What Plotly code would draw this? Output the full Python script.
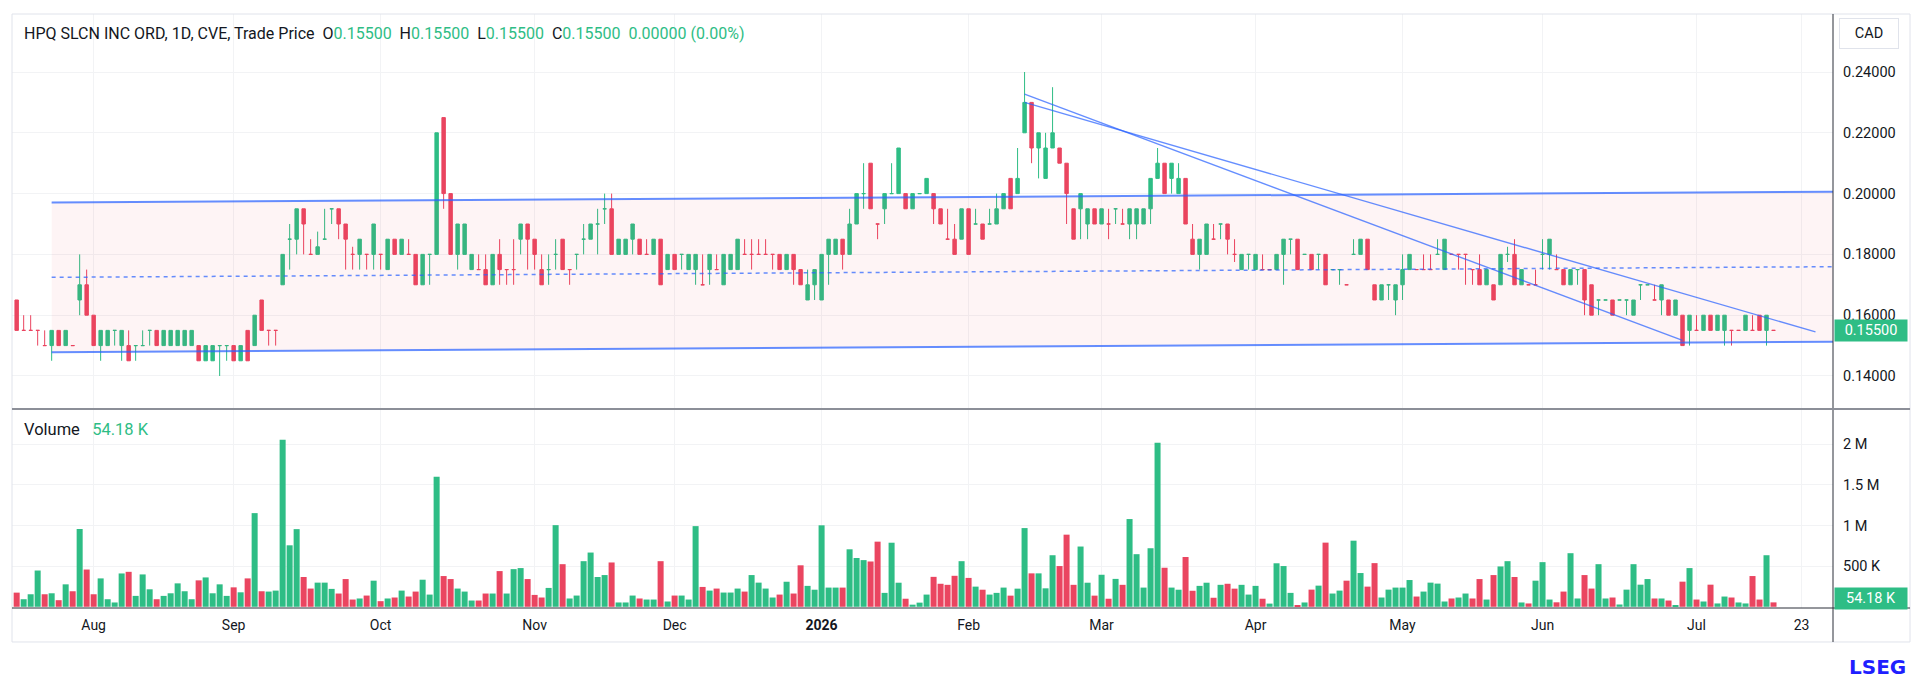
import pandas as pd
import plotly.graph_objects as go

# TSXV trading calendar for the chart window
holidays = ["2025-08-04", "2025-09-01", "2025-10-13", "2025-12-25", "2025-12-26",
            "2026-01-01", "2026-02-16", "2026-04-03", "2026-05-18", "2026-07-01"]
days = [d for d in pd.bdate_range("2025-07-17", "2026-07-17")
        if d.strftime("%Y-%m-%d") not in holidays]

# daily OHLC (CAD)
open_ = [
    .165, .155, .155, .155, .15, .15, .155, .15, .15, .165, .17, .16, .15, .15, .155, .15, .15, .15, .15, .155,
    .155, .15, .15, .15, .15, .15, .15, .145, .145, .15, .15, .15, .145, .155, .15, .165, .155, .155, .17, .185,
    .185, .195, .18, .18, .185, .195, .195, .19, .18, .18, .18, .18, .18, .175, .185, .18, .18, .18, .17, .18,
    .18, .225, .20, .18, .18, .175, .175, .175, .17, .18, .175, .175, .185, .19, .185, .175, .175, .18, .185, .175,
    .18, .185, .185, .19, .195, .195, .18, .18, .185, .185, .18, .18, .185, .175, .18, .18, .175, .175, .17, .175,
    .175, .17, .175, .175, .18, .18, .18, .18, .18, .18, .175, .18, .175, .165, .17, .165, .18, .18, .185, .18,
    .19, .20, .21, .19, .195, .20, .20, .20, .195, .20, .20, .20, .195, .185, .185, .185, .195, .19, .19, .19,
    .19, .195, .205, .20, .22, .23, .215, .205, .215, .215, .21, .195, .195, .19, .195, .19, .19, .195, .19, .19,
    .19, .19, .195, .205, .21, .205, .20, .205, .185, .18, .18, .185, .19, .19, .18, .175, .18, .175, .175, .175,
    .175, .18, .185, .185, .18, .18, .18, .18, .175, .175, .17, .18, .18, .185, .17, .165, .17, .165, .17, .175,
    .175, .175, .175, .18, .175, .18, .18, .18, .175, .175, .17, .17, .17, .18, .18, .17, .17, .17, .18, .18,
    .175, .175, .17, .175, .175, .17, .165, .165, .165, .165, .165, .16, .17, .17, .165, .165, .165, .16, .16, .155,
    .155, .155, .16, .155, .155, .155, .155, .155, .155, .16, .155, .155,
]
high = [
    .165, .16, .16, .155, .155, .155, .155, .155, .15, .18, .175, .16, .155, .155, .155, .155, .155, .15, .155, .155,
    .155, .155, .155, .155, .155, .155, .15, .15, .15, .15, .15, .15, .15, .155, .16, .165, .155, .155, .18, .19,
    .195, .195, .185, .1875, .195, .195, .195, .19, .1825, .185, .18, .19, .18, .185, .185, .185, .185, .18, .18, .18,
    .22, .225, .20, .19, .19, .18, .18, .18, .18, .185, .175, .185, .19, .19, .185, .18, .18, .185, .185, .175,
    .18, .19, .19, .195, .20, .20, .185, .185, .19, .185, .185, .185, .185, .18, .18, .18, .18, .18, .18, .18,
    .18, .18, .18, .185, .185, .185, .185, .185, .18, .18, .18, .18, .175, .175, .175, .18, .185, .185, .185, .195,
    .20, .21, .21, .19, .20, .21, .215, .20, .20, .20, .205, .20, .195, .195, .19, .195, .195, .195, .19, .195,
    .20, .20, .205, .215, .24, .23, .22, .22, .235, .215, .21, .195, .20, .195, .195, .195, .195, .195, .195, .195,
    .195, .195, .205, .215, .21, .21, .21, .205, .19, .185, .19, .19, .19, .19, .185, .18, .18, .18, .18, .175,
    .18, .185, .185, .185, .18, .18, .18, .18, .175, .175, .17, .185, .185, .185, .17, .17, .17, .17, .18, .18,
    .175, .18, .18, .185, .185, .18, .18, .18, .175, .18, .175, .17, .18, .1825, .185, .175, .17, .175, .185, .185,
    .18, .175, .175, .175, .175, .17, .165, .165, .165, .165, .165, .165, .17, .17, .17, .17, .165, .165, .16, .16,
    .16, .16, .16, .16, .16, .155, .155, .16, .16, .16, .16, .155,
]
low = [
    .155, .155, .155, .15, .15, .145, .15, .15, .15, .16, .16, .15, .145, .15, .15, .145, .145, .145, .15, .15,
    .15, .15, .15, .15, .15, .15, .145, .145, .145, .14, .145, .145, .145, .145, .15, .155, .15, .15, .17, .175,
    .18, .18, .18, .18, .185, .19, .185, .175, .175, .175, .175, .175, .175, .175, .18, .18, .18, .17, .17, .17,
    .18, .195, .18, .175, .18, .175, .175, .17, .17, .17, .17, .17, .18, .175, .175, .17, .17, .175, .175, .17,
    .175, .18, .185, .18, .19, .18, .18, .18, .18, .18, .18, .18, .17, .175, .175, .175, .175, .17, .17, .17,
    .175, .17, .175, .175, .18, .175, .18, .18, .175, .175, .175, .17, .17, .165, .165, .165, .17, .18, .175, .18,
    .19, .195, .195, .185, .19, .20, .20, .195, .195, .20, .20, .19, .19, .185, .18, .185, .18, .19, .185, .19,
    .19, .195, .195, .20, .22, .21, .205, .205, .215, .21, .19, .185, .185, .185, .19, .19, .185, .19, .19, .185,
    .185, .19, .19, .205, .20, .20, .20, .19, .18, .175, .18, .185, .185, .18, .1775, .175, .175, .175, .175, .175,
    .175, .17, .18, .175, .18, .175, .175, .17, .175, .17, .17, .18, .18, .175, .165, .165, .165, .16, .165, .175,
    .175, .175, .175, .18, .175, .18, .175, .17, .17, .17, .17, .165, .17, .1775, .17, .17, .17, .17, .175, .175,
    .175, .17, .17, .17, .16, .16, .16, .165, .16, .165, .16, .16, .165, .17, .165, .16, .16, .16, .15, .15,
    .155, .155, .155, .155, .15, .15, .155, .155, .155, .155, .15, .155,
]
close = [
    .155, .155, .155, .155, .15, .155, .15, .155, .15, .17, .16, .15, .155, .155, .155, .155, .145, .15, .15, .155,
    .15, .155, .155, .155, .155, .155, .145, .15, .15, .15, .15, .145, .15, .145, .16, .155, .155, .155, .18, .185,
    .195, .19, .18, .1825, .185, .195, .19, .185, .18, .185, .18, .19, .18, .185, .18, .185, .18, .17, .18, .18,
    .22, .20, .18, .19, .19, .18, .175, .17, .18, .175, .175, .175, .19, .185, .18, .17, .175, .18, .175, .175,
    .18, .185, .19, .19, .195, .18, .185, .185, .19, .18, .18, .185, .17, .18, .175, .18, .18, .18, .17, .18,
    .175, .18, .18, .185, .18, .18, .18, .18, .18, .175, .18, .175, .17, .17, .175, .18, .185, .185, .18, .19,
    .20, .20, .195, .19, .20, .20, .215, .195, .20, .20, .205, .195, .19, .185, .18, .195, .18, .19, .185, .19,
    .195, .20, .195, .205, .23, .215, .22, .215, .22, .21, .20, .185, .20, .195, .19, .195, .19, .195, .19, .195,
    .195, .195, .205, .21, .20, .21, .205, .19, .18, .185, .19, .185, .19, .185, .18, .18, .18, .18, .175, .175,
    .18, .185, .185, .175, .18, .175, .18, .17, .175, .175, .17, .18, .185, .175, .165, .17, .17, .17, .175, .18,
    .175, .175, .175, .18, .185, .18, .18, .18, .175, .17, .175, .165, .18, .18, .17, .175, .17, .17, .18, .185,
    .175, .17, .175, .175, .165, .16, .165, .165, .16, .165, .165, .165, .17, .17, .165, .17, .16, .165, .15, .16,
    .155, .16, .155, .16, .16, .155, .155, .16, .155, .155, .16, .155,
]
# daily volume, thousands of shares
volume_k = [
    174, 93, 154, 446, 154, 166, 81, 276, 191, 957, 458, 154, 349, 93, 53, 410, 430, 134, 398, 215,
    93, 134, 166, 288, 191, 93, 325, 361, 166, 276, 134, 239, 178, 349, 1152, 191, 187, 199, 2053, 756,
    955, 366, 224, 297, 297, 220, 163, 341, 89, 102, 138, 321, 69, 102, 114, 199, 126, 187, 333, 150,
    1598, 378, 341, 224, 187, 77, 77, 163, 163, 439, 163, 463, 476, 341, 146, 114, 232, 1004, 524, 102,
    138, 561, 667, 366, 390, 545, 53, 53, 138, 102, 89, 89, 561, 65, 138, 138, 89, 992, 244, 199,
    224, 175, 175, 224, 187, 390, 297, 224, 114, 150, 308, 163, 510, 257, 210, 1002, 236, 236, 236, 707,
    600, 574, 557, 801, 171, 788, 296, 99, 26, 51, 150, 368, 283, 270, 381, 561, 355, 248, 210, 150,
    171, 236, 137, 223, 968, 411, 411, 227, 634, 501, 887, 270, 741, 296, 137, 394, 99, 343, 270, 1079,
    647, 236, 720, 2017, 480, 236, 210, 612, 197, 257, 296, 111, 270, 283, 223, 270, 150, 257, 99, 39,
    535, 501, 171, 20, 53, 211, 260, 789, 163, 199, 321, 813, 415, 248, 537, 114, 211, 236, 236, 329,
    126, 187, 297, 285, 65, 102, 114, 163, 102, 341, 89, 390, 496, 561, 366, 53, 41, 321, 549, 89,
    55, 187, 659, 102, 390, 224, 524, 102, 114, 28, 211, 524, 272, 341, 102, 102, 77, 20, 309, 476,
    89, 65, 272, 41, 126, 114, 53, 41, 378, 89, 634, 54.18,
]
assert len(days) == len(open_) == len(high) == len(low) == len(close) == len(volume_k) == 252

# drawings on the price pane: parallel channel and two falling trend lines
channel_x = ["2025-07-24 12:00", "2026-07-30 00:00"]
channel_upper = [0.1971, 0.2006]
channel_mid = [0.17245, 0.17595]
channel_lower = [0.1478, 0.1513]
trend_a_x = ["2026-02-12 12:00", "2026-07-27 12:00"]
trend_a_y = [0.2300, 0.1545]
trend_b_x = ["2026-02-12 12:00", "2026-06-29 12:00"]
trend_b_y = [0.2327, 0.1517]

tick_days = ["2025-08-01", "2025-09-02", "2025-10-01", "2025-11-03", "2025-12-01", "2026-01-02",
             "2026-02-02", "2026-03-02", "2026-04-01", "2026-05-01", "2026-06-01", "2026-07-02", "2026-07-23"]
tick_text = ["Aug", "Sep", "Oct", "Nov", "Dec", "<b>2026</b>", "Feb", "Mar", "Apr", "May", "Jun", "Jul", "23"]

GREEN = "#2ebd85"
RED = "#ea4560"
TEXT = "#131722"
GRID = "#f2f3f5"
LINE_BLUE = "rgba(41,98,255,0.72)"

# bars sit at midday so they don't get cut by the weekend breaks
x = [d + pd.Timedelta(hours=12) for d in days]
ticks = [pd.Timestamp(t) + pd.Timedelta(hours=12) for t in tick_days]

vol_colors = []
prev_c = None
for o, c in zip(open_, close):
    up = c > o or (c == o and (prev_c is None or c >= prev_c))
    vol_colors.append(GREEN if up else RED)
    prev_c = c

fig = go.Figure()

fig.add_trace(go.Scatter(
    x=[channel_x[0], channel_x[1], channel_x[1], channel_x[0]],
    y=[channel_upper[0], channel_upper[1], channel_lower[1], channel_lower[0]],
    fill="toself", fillcolor="rgba(242,54,69,0.055)", mode="lines", line=dict(width=0),
    xaxis="x2", yaxis="y", hoverinfo="skip", showlegend=False))

fig.add_trace(go.Candlestick(
    x=x, open=open_, high=high, low=low, close=close,
    xaxis="x2", yaxis="y", whiskerwidth=0, hoverinfo="skip", showlegend=False,
    increasing=dict(line=dict(color=GREEN, width=1), fillcolor=GREEN),
    decreasing=dict(line=dict(color=RED, width=1), fillcolor=RED)))

for ys, w, dash in [(channel_upper, 2, "solid"), (channel_lower, 2, "solid"), (channel_mid, 1.5, "4px,4px")]:
    fig.add_trace(go.Scatter(x=channel_x, y=ys, mode="lines",
                             line=dict(color=LINE_BLUE, width=w, dash=dash),
                             xaxis="x2", yaxis="y", hoverinfo="skip", showlegend=False))
for tx, ty in [(trend_a_x, trend_a_y), (trend_b_x, trend_b_y)]:
    fig.add_trace(go.Scatter(x=tx, y=ty, mode="lines", line=dict(color=LINE_BLUE, width=1.4),
                             xaxis="x2", yaxis="y", hoverinfo="skip", showlegend=False))

fig.add_trace(go.Bar(
    x=x, y=[v * 1000 for v in volume_k], marker=dict(color=vol_colors, line=dict(width=0)),
    xaxis="x", yaxis="y2", hoverinfo="skip", showlegend=False))

breaks = [dict(bounds=["sat", "mon"]), dict(values=holidays)]
x_range = ["2025-07-16 20:00", "2026-07-30 00:00"]

common_x = dict(type="date", range=x_range, rangebreaks=breaks, tickvals=ticks,
                showgrid=True, gridcolor=GRID, gridwidth=1, zeroline=False, showline=False,
                rangeslider=dict(visible=False), fixedrange=True)

# page body has an 8px margin, so the figure is 8px smaller and shifted
fig.update_layout(
    width=1912, height=673,
    margin=dict(l=4, r=87, t=6, b=73),
    paper_bgcolor="white", plot_bgcolor="white",
    showlegend=False, bargap=0.14, boxgap=0.3,
    font=dict(family="Roboto, sans-serif", size=13, color=TEXT),
    xaxis=dict(domain=[0, 1], anchor="y2", ticktext=tick_text, ticks="",
               ticklabelstandoff=7, tickfont=dict(size=14, color=TEXT), **common_x),
    xaxis2=dict(domain=[0, 1], anchor="y", showticklabels=False, **common_x),
    yaxis=dict(domain=[0.3367, 1], anchor="x2", side="right", range=[0.12947, 0.25908],
               tick0=0, dtick=0.02, tickformat=".5f", ticks="", ticklabelstandoff=9,
               tickfont=dict(size=14.5, color=TEXT),
               showgrid=True, gridcolor=GRID, zeroline=False, showline=False, fixedrange=True),
    yaxis2=dict(domain=[0, 0.3333], anchor="x", side="right", range=[-15000, 2420000],
                tickvals=[500000, 1000000, 1500000, 2000000], ticktext=["500 K", "1 M", "1.5 M", "2 M"],
                ticks="", ticklabelstandoff=9, tickfont=dict(size=14.5, color=TEXT),
                showgrid=True, gridcolor=GRID, zeroline=False, showline=False, fixedrange=True),
)

# frame, pane divider, axis lines
R = 1.0423
fig.add_shape(type="rect", xref="paper", yref="paper", x0=0, x1=R, y0=-0.0572, y1=1,
              line=dict(color="#e0e3eb", width=1))
fig.add_shape(type="line", xref="paper", yref="paper", x0=1, x1=1, y0=-0.0572, y1=1,
              line=dict(color="#2a2e39", width=1))
fig.add_shape(type="line", xref="paper", yref="paper", x0=0, x1=R, y0=0.335, y1=0.335,
              line=dict(color="#8c8f98", width=2))
fig.add_shape(type="line", xref="paper", yref="paper", x0=0, x1=R, y0=0, y1=0,
              line=dict(color="#2a2e39", width=1))


def g(s):
    return "<span style='color:%s'>%s</span>" % (GREEN, s)


sp = "\u00a0\u00a0"
header = ("HPQ SLCN INC ORD, 1D, CVE, Trade Price" + sp + "O" + g("0.15500") + sp + "H" + g("0.15500")
          + sp + "L" + g("0.15500") + sp + "C" + g("0.15500") + sp + g("0.00000 (0.00%)"))
fig.add_annotation(text=header, xref="paper", yref="paper", x=0.0055, y=0.968,
                   xanchor="left", yanchor="middle", showarrow=False, font=dict(size=16, color=TEXT))
fig.add_annotation(text="Volume" + sp + "\u00a0" + g("54.18 K"), xref="paper", yref="paper",
                   x=0.0055, y=0.2997, xanchor="left", yanchor="middle", showarrow=False,
                   font=dict(size=16.5, color=TEXT))
fig.add_annotation(text="CAD", xref="paper", yref="paper", x=1.0198, y=0.968,
                   xanchor="center", yanchor="middle", showarrow=False, width=46, height=17,
                   bordercolor="#e0e3eb", borderwidth=1, borderpad=6, bgcolor="white",
                   font=dict(size=14.5, color=TEXT))
fig.add_annotation(text="0.15500", xref="paper", yref="y", x=1.0006, y=close[-1],
                   xanchor="left", yanchor="middle", showarrow=False, width=66, height=15,
                   bgcolor=GREEN, borderpad=3, font=dict(size=14.5, color="white"))
fig.add_annotation(text="54.18 K", xref="paper", yref="paper", x=1.0006, y=0.0168,
                   xanchor="left", yanchor="middle", showarrow=False, width=66, height=15,
                   bgcolor=GREEN, borderpad=3, font=dict(size=14.5, color="white"))
fig.add_annotation(text="<b>LSEG</b>", xref="paper", yref="paper", x=1.0412, y=-0.0993,
                   xanchor="right", yanchor="middle", showarrow=False,
                   font=dict(size=20, color="#1f1fff", family="DejaVu Sans"))

fig.write_html("out.html")
